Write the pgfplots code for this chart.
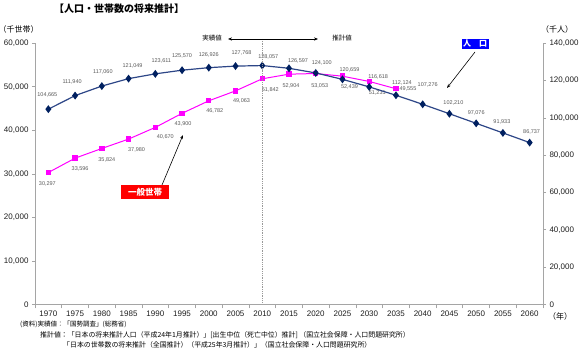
\documentclass[border=0pt]{standalone}
\usepackage{fontspec}
\setmainfont{Liberation Sans}
\newfontfamily\jp{Noto Sans CJK JP}
\usepackage{pgfplots}
\pgfplotsset{compat=1.18}
\usepackage{pgfplotstable}
\usetikzlibrary{arrows.meta}
\definecolor{popline}{RGB}{45,70,135}
\definecolor{popmark}{RGB}{0,32,96}
\definecolor{hhcol}{RGB}{255,0,255}
\definecolor{labgray}{RGB}{89,89,89}
\definecolor{axisgray}{RGB}{165,165,165}
\definecolor{tickcol}{RGB}{30,30,30}

\pgfplotstableread{
x y lab dx dy
0 104665 104,665 -1 14
1 111940 111,940 -3 14
2 117060 117,060 1 14
3 121049 121,049 4 13
4 123611 123,611 6 13
5 125570 125,570 0 14
6 126926 126,926 0 13
7 127768 127,768 6 13
8 128057 128,057 6 9
9 126597 126,597 9 7
10 124100 124,100 6 10
11 120659 120,659 7 9
12 116618 116,618 9 10
13 112124 112,124 6 12
14 107276 107,276 5 19
15 102210 102,210 4 11
16 97076 97,076 0 10
17 91933 91,933 -1 11
18 86737 86,737 2 11
}\pop

\pgfplotstableread{
x y lab dx dy
0 30297 30,297 -1 -11
1 33596 33,596 5 -11
2 35824 35,824 5 -11
3 37980 37,980 8 -11
4 40670 40,670 10 -10
5 43900 43,900 1 -11
6 46782 46,782 6 -10
7 49063 49,063 6 -10
8 51842 51,842 8 -11
9 52904 52,904 2 -12
10 53053 53,053 4 -12
11 52439 52,439 7 -11
12 51231 51,231 8 -11
13 49555 49,555 12 0
}\hh

\pgfplotsset{
  commonaxis/.style={
    scale only axis, width=508pt, height=261pt,
    at={(35pt,46.7pt)}, anchor=south west,
    xmin=-0.5, xmax=18.5, clip=false,
    tick align=outside,
    axis line style={draw=axisgray, line width=0.6pt},
    every tick/.style={draw=axisgray, line width=0.6pt},
    major tick length=3pt, minor tick length=4pt,
    scaled y ticks=false,
    yticklabel={\pgfmathprintnumber[fixed, precision=0, 1000 sep={,}, assume math mode=true]{\tick}},
    yticklabel style={font=\fontsize{8}{9}\selectfont, text=tickcol},
  },
  lbl/.style={
    point meta=explicit symbolic, nodes near coords,
    visualization depends on={\thisrow{dx}\as\dx},
    visualization depends on={\thisrow{dy}\as\dy},
    nodes near coords style={anchor=center, xshift=\dx pt, yshift=\dy pt,
      font=\fontsize{5.5}{6}\selectfont, text=labgray, inner sep=0pt},
  },
}

\begin{document}
\begin{tikzpicture}
\useasboundingbox (0,0) rectangle (580pt,351pt);
% right axis: ticks and labels only, no plot
\begin{axis}[commonaxis, color=axisgray,
  axis y line*=right, hide x axis,
  ymin=0, ymax=140000, ytick={0,20000,...,140000},
]
\end{axis}
\begin{axis}[commonaxis,
  axis y line*=left, axis x line*=bottom,
  ymin=0, ymax=60000, ytick={0,10000,...,60000},
  xtick={0,...,18},
  xticklabels={1970,1975,1980,1985,1990,1995,2000,2005,2010,2015,2020,2025,2030,2035,2040,2045,2050,2055,2060},
  major x tick style={draw=none},
  minor xtick={-0.5,0.5,...,18.5},
  xticklabel style={font=\fontsize{8}{9}\selectfont, text=tickcol},
]
\addplot[color=hhcol, line width=1pt, mark=square*, mark size=2.2pt,
  mark options={fill=hhcol, draw=hhcol}, lbl]
  table[x=x, y=y, meta=lab] {\hh};
\end{axis}
% population plot on the right-hand scale, no axis lines
\begin{axis}[commonaxis, hide x axis, hide y axis,
  ymin=0, ymax=140000,
]
\addplot[color=popline, line width=1.2pt, mark=diamond*, mark size=3pt,
  mark options={fill=popmark, draw=popmark}, lbl]
  table[x=x, y=y, meta=lab] {\pop};
\end{axis}
\begin{scope}[x=1pt, y=1pt]
  % vertical divider at 2010
  \draw[gray!80, line width=0.5pt, dash pattern=on 1pt off 0.8pt] (262.3,312) -- (262.3,49);
  \draw[-{Stealth[length=4pt,width=3.2pt]}, line width=0.8pt] (262.3,312) -- (228,312);
  \draw[-{Stealth[length=4pt,width=3.2pt]}, line width=0.8pt] (262.3,312) -- (318,312);
  \node[font=\jp\fontsize{6.5}{7}\selectfont] at (212,313) {実績値};
  \node[font=\jp\fontsize{6.5}{7}\selectfont] at (342,313) {推計値};
  % title and units
  \node[font=\jp\bfseries\fontsize{10}{11}\selectfont] at (119,342) {【人口・世帯数の将来推計】};
  \node[font=\jp\fontsize{8}{9}\selectfont] at (18.5,322) {（千世帯）};
  \node[font=\jp\fontsize{8}{9}\selectfont] at (557,322) {（千人）};
  \node[font=\jp\fontsize{8}{9}\selectfont] at (560,35) {（年）};
  % callouts
  \draw[-{Stealth[length=4pt,width=3pt]}, line width=0.6pt] (475,299) -- (447,263);
  \node[fill=blue, draw=white, text=white, minimum width=28pt, minimum height=11pt, inner sep=0pt,
        font=\jp\bfseries\fontsize{8}{9}\selectfont] at (475,307.5) {人　口};
  \draw[-{Stealth[length=4pt,width=3pt]}, line width=0.6pt] (162,166) -- (183,216);
  \node[fill=red, text=white, minimum width=48pt, minimum height=14pt, inner sep=0pt,
        font=\jp\bfseries\fontsize{8.5}{9}\selectfont] at (145,159) {一般世帯};
  % footnotes
  \node[anchor=west, inner sep=0pt, font=\jp\fontsize{6.5}{7}\selectfont] at (20,27) {(資料)実績値：「国勢調査」(総務省)};
  \node[anchor=west, inner sep=0pt, font=\jp\fontsize{6.9}{7}\selectfont] at (40,16) {推計値：「日本の将来推計人口（平成24年1月推計）」[出生中位（死亡中位）推計] （国立社会保障・人口問題研究所）};
  \node[anchor=west, inner sep=0pt, font=\jp\fontsize{6.9}{7}\selectfont] at (63,6) {「日本の世帯数の将来推計（全国推計）（平成25年3月推計）」（国立社会保障・人口問題研究所）};
\end{scope}
\end{tikzpicture}
\end{document}
